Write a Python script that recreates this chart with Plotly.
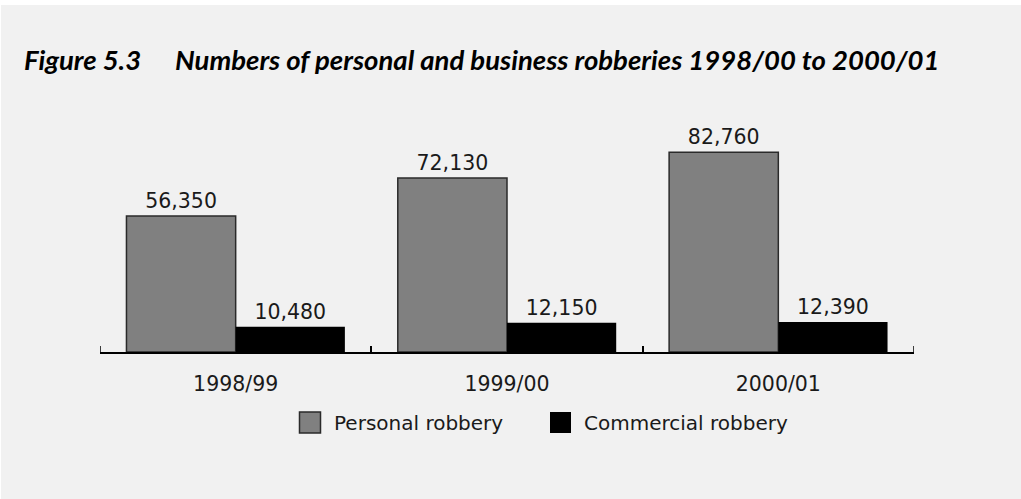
import plotly.graph_objects as go

# Robbery counts by financial year
years = ["1998/99", "1999/00", "2000/01"]
personal = [56350, 72130, 82760]
commercial = [10480, 12150, 12390]
series_names = ["Personal robbery", "Commercial robbery"]
fig_no = "Figure 5.3"
fig_title = "Numbers of personal and business robberies 1998/00 to 2000/01"

W, H = 1021, 499
L, R, T, B = 100, 107, 100, 147
PW, PH = W - L - R, H - T - B


def px_x(x):
    return (x - L) / PW


def px_y(y):
    return (H - B - y) / PH


FONT = "DejaVu Sans"
TITLE_FONT = "Lato, Liberation Sans, Arial"
BG = "#f1f1f1"
GREY = "#808080"
TICK_LEN = 6

fig = go.Figure()
fig.add_bar(
    x=years, y=personal, name=series_names[0],
    marker=dict(color=GREY, line=dict(color="#2a2a2a", width=1.5)),
    text=[f"{v:,}" for v in personal], textposition="outside",
    textfont=dict(family=FONT, size=20.5, color="#1a1a1a"),
    cliponaxis=False,
)
fig.add_bar(
    x=years, y=commercial, name=series_names[1],
    marker=dict(color="#000000", line=dict(color="#000000", width=0)),
    text=[f"{v:,}" for v in commercial], textposition="outside",
    textfont=dict(family=FONT, size=20.5, color="#1a1a1a"),
    cliponaxis=False,
)

shapes = [
    # grey panel behind the figure
    dict(type="rect", xref="paper", yref="paper", layer="below",
         x0=px_x(1), x1=px_x(W + 5), y0=px_y(H + 5), y1=px_y(5),
         fillcolor=BG, line=dict(width=0)),
    # legend swatches
    dict(type="rect", xref="paper", yref="paper",
         x0=px_x(299.5), x1=px_x(320.5), y0=px_y(433), y1=px_y(412),
         fillcolor=GREY, line=dict(color="#2a2a2a", width=1.5)),
    dict(type="rect", xref="paper", yref="paper",
         x0=px_x(550), x1=px_x(571), y0=px_y(433), y1=px_y(412),
         fillcolor="#000000", line=dict(width=0)),
]
# tick marks at the two outer category boundaries
for edge in (-0.5, len(years) - 0.5):
    shapes.append(dict(type="line", xref="x", yref="paper",
                       x0=edge, x1=edge, y0=0, y1=TICK_LEN / PH,
                       line=dict(color="#000", width=1.5)))

title_font = dict(family=TITLE_FONT, size=27.5, color="#000")
annotations = [
    dict(text=f"<b><i>{fig_no}</i></b>", xref="paper", yref="paper",
         x=px_x(22), y=px_y(60), xanchor="left", yanchor="middle", showarrow=False,
         font=title_font),
    dict(text=f"<b><i>{fig_title}</i></b>", xref="paper", yref="paper",
         x=px_x(173), y=px_y(60), xanchor="left", yanchor="middle", showarrow=False,
         font=title_font),
    dict(text=series_names[0], xref="paper", yref="paper",
         x=px_x(332), y=px_y(422.5), xanchor="left", yanchor="middle", showarrow=False,
         font=dict(family=FONT, size=20, color="#1a1a1a")),
    dict(text=series_names[1], xref="paper", yref="paper",
         x=px_x(582), y=px_y(422.5), xanchor="left", yanchor="middle", showarrow=False,
         font=dict(family=FONT, size=20, color="#1a1a1a")),
]

fig.update_layout(
    width=W, height=H,
    margin=dict(l=L, r=R, t=T, b=B, pad=0),
    paper_bgcolor="#ffffff", plot_bgcolor=BG,
    barmode="group", bargap=0.195, bargroupgap=0,
    showlegend=False,
    shapes=shapes, annotations=annotations,
    xaxis=dict(
        type="category", range=[-0.5, 2.5], showgrid=False, zeroline=False,
        showline=True, linecolor="#000", linewidth=1.5,
        ticks="inside", tickson="boundaries", ticklen=TICK_LEN, tickwidth=1.5, tickcolor="#000",
        tickfont=dict(family=FONT, size=20.5, color="#1a1a1a"),
        ticklabelstandoff=13,
    ),
    yaxis=dict(range=[0, PH / 0.002413], visible=False, fixedrange=True),
)

fig.write_html("out.html")
